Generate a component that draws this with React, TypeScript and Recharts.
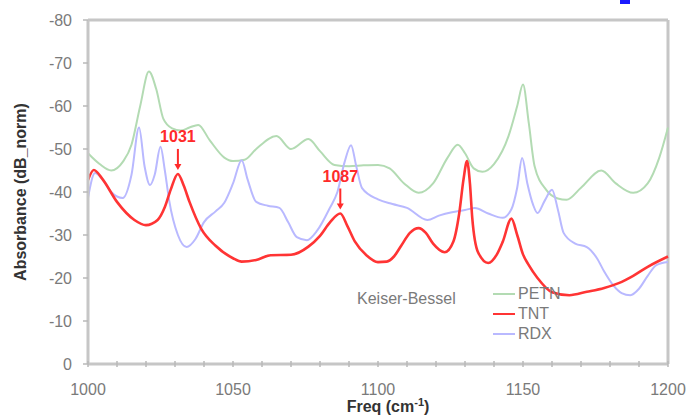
import {
  LineChart,
  Line,
  XAxis,
  YAxis,
  ReferenceLine,
  ReferenceDot,
  Label,
} from "recharts";

const FONT = '"Liberation Sans", Arial, Helvetica, sans-serif';

// Normalised absorbance spectra (Keiser-Bessel window), 1000-1200 cm^-1
const petnFreq = [
  1000, 1004, 1008, 1012, 1015, 1018, 1021, 1023.5, 1026, 1029, 1032, 1035, 1038,
  1042, 1047, 1050, 1054, 1058, 1065, 1070, 1076, 1080, 1085, 1090, 1095, 1100,
  1104, 1109, 1114, 1119, 1124, 1127.5, 1130, 1133, 1136, 1140, 1145, 1148, 1150,
  1152, 1154, 1158, 1162, 1165, 1170, 1177, 1182, 1188, 1193, 1197, 1200,
];
const petnAbs = [
  -49, -46.5, -45, -47, -51, -60, -68, -64, -57, -54.8, -54.3, -55, -55.6, -52,
  -48, -47.2, -47.5, -50, -53, -50, -52.3, -49.5, -46.3, -46, -46.2, -46.3, -45.5,
  -42, -39.8, -42, -48, -51, -49, -45.5, -44.7, -46.5, -53, -60, -65, -56, -46,
  -40.5, -38.5, -38.2, -41, -45, -42, -39.8, -42, -48, -55,
];

const tntFreq = [
  1000, 1002, 1005, 1010, 1016, 1020, 1024, 1026.5, 1028.5, 1031, 1033, 1035, 1039,
  1044, 1050, 1053, 1058, 1063, 1070, 1076, 1080, 1083.5, 1087, 1089.5, 1092, 1096,
  1100, 1103, 1105.5, 1108, 1111, 1114, 1116.5, 1119, 1123, 1126, 1128, 1129.5,
  1130.7, 1131.7, 1132.5, 1134.5, 1138, 1141, 1143, 1146, 1148, 1150, 1152, 1155,
  1160, 1166, 1172, 1178, 1183, 1188, 1193, 1200,
];
const tntAbs = [
  -42.8, -45.1, -43, -37.7, -33.5, -32.3, -33.5, -36.5, -40.5, -44.2, -41.5, -37.7,
  -31.5, -27.5, -24.6, -23.8, -24.2, -25.3, -25.4, -27.3, -29.8, -33, -35, -32,
  -28.5, -25.3, -23.7, -23.8, -25, -27.5, -30.5, -31.6, -30.5, -28, -26, -28.5, -35,
  -43, -47.2, -42, -34, -26, -23.5, -25.5, -28.4, -33.8, -30, -25.5, -23, -20, -16.7,
  -16, -16.8, -17.7, -18.8, -20.5, -22.6, -25,
];

const rdxFreq = [
  1000, 1002.4, 1005, 1008, 1012, 1015, 1017.6, 1019.5, 1021.4, 1023, 1025, 1026.5,
  1028, 1031, 1034, 1037, 1040, 1044, 1047, 1050, 1053, 1055, 1058, 1062, 1066,
  1069, 1072, 1075.5, 1079, 1083.4, 1086, 1088.5, 1090.7, 1092.5, 1094.5, 1100,
  1105, 1110, 1117, 1121, 1125.5, 1130, 1133.4, 1138, 1143, 1146, 1148, 1149.7,
  1151.5, 1153.5, 1155, 1157.5, 1160, 1162, 1164, 1168, 1172, 1175.5, 1178, 1181,
  1184, 1187, 1190, 1193, 1196, 1200,
];
const rdxAbs = [
  -38.6, -44.4, -43, -40, -38.6, -44, -55, -46, -41.6, -44, -50.5, -45, -38, -30,
  -27.2, -29, -33, -35.5, -37.5, -42, -47.4, -43, -37.7, -36.8, -36.3, -33, -29.5,
  -28.8, -31, -36.3, -40, -47, -50.9, -46, -40.9, -38.3, -37.2, -36.3, -33.5, -34.5,
  -35.3, -35.8, -36.3, -35, -34, -36, -41, -47.9, -42, -37, -35.1, -38, -40.5, -36,
  -30.5, -28, -27.2, -24.6, -21.5, -18.4, -16.5, -16, -17.5, -20.5, -23, -23.7,
];

const yTicks = [-80, -70, -60, -50, -40, -30, -20, -10, 0];
const xTicks = [
  1000, 1010, 1020, 1030, 1040, 1050, 1060, 1070, 1080, 1090, 1100, 1110, 1120,
  1130, 1140, 1150, 1160, 1170, 1180, 1190, 1200,
];
const xLabelTicks = [1000, 1050, 1100, 1150, 1200];

// TNT peaks called out with an arrow
const tntPeaks = [1031, 1087];

const series = [
  { key: "petn", name: "PETN", color: "#b3dbb3", width: 2 },
  { key: "tnt", name: "TNT", color: "#ff3434", width: 2.6 },
  { key: "rdx", name: "RDX", color: "#b9b9ff", width: 2 },
];

// merge the three spectra into one table keyed by frequency
const rows = new Map<number, any>();
const addSeries = (key: string, freq: number[], vals: number[]) => {
  freq.forEach((f, i) => {
    const row = rows.get(f) ?? { f };
    row[key] = vals[i];
    rows.set(f, row);
  });
};
addSeries("petn", petnFreq, petnAbs);
addSeries("tnt", tntFreq, tntAbs);
addSeries("rdx", rdxFreq, rdxAbs);
const chartData = [...rows.values()].sort((a, b) => a.f - b.f);

const AXIS_GRAY = "#c6c6c6";
const TEXT_GRAY = "#7a7a7a";
const PEAK_RED = "#ff2a2a";

const FreqTick = ({ x, y, payload }: any) => (
  <g>
    <line x1={x} x2={x} y1={y - 3} y2={y + 3} stroke="#b8b8b8" strokeWidth={1.5} />
    {xLabelTicks.includes(payload.value) && (
      <text
        x={x}
        y={y + 31}
        textAnchor="middle"
        fill={TEXT_GRAY}
        fontSize={16}
        fontFamily={FONT}
      >
        {payload.value}
      </text>
    )}
  </g>
);

const PeakMarker = ({ cx, cy, label }: any) => (
  <g>
    <text
      x={cx}
      y={cy - 32}
      textAnchor="middle"
      fill={PEAK_RED}
      fontSize={16}
      fontWeight="bold"
      fontFamily={FONT}
    >
      {label}
    </text>
    <line x1={cx} x2={cx} y1={cy - 25} y2={cy - 9} stroke={PEAK_RED} strokeWidth={2} />
    <path d={`M${cx - 3.5},${cy - 10} L${cx + 3.5},${cy - 10} L${cx},${cy - 4} Z`} fill={PEAK_RED} />
  </g>
);

const renderFreqTitle = ({ viewBox }: any) => (
  <text
    x={viewBox.x + viewBox.width / 2 + 10}
    y={412}
    textAnchor="middle"
    fill="#333"
    fontSize={16}
    fontWeight="bold"
    fontFamily={FONT}
  >
    Freq (cm
    <tspan fontSize={11} dy={-6}>-1</tspan>
    <tspan dy={6}>)</tspan>
  </text>
);

const renderAbsTitle = ({ viewBox }: any) => {
  const cx = 26;
  const cy = viewBox.y + viewBox.height / 2;
  return (
    <text
      x={cx}
      y={cy}
      transform={`rotate(-90, ${cx}, ${cy})`}
      textAnchor="middle"
      fill="#333"
      fontSize={16}
      fontWeight="bold"
      fontFamily={FONT}
    >
      Absorbance (dB_norm)
    </text>
  );
};

export default function App() {
  return (
    <div
      style={{
        position: "absolute",
        left: 0,
        top: 0,
        width: 687,
        height: 417,
        background: "#fff",
        fontFamily: FONT,
      }}
    >
      <LineChart
        width={687}
        height={417}
        data={chartData}
        margin={{ top: 20, right: 19, bottom: 23, left: 0 }}
      >
        <XAxis
          dataKey="f"
          type="number"
          domain={[1000, 1200]}
          ticks={xTicks}
          interval={0}
          height={30}
          tickSize={0}
          tickMargin={0}
          tickLine={false}
          tick={<FreqTick />}
          axisLine={{ stroke: AXIS_GRAY, strokeWidth: 3 }}
        >
          <Label content={renderFreqTitle} />
        </XAxis>
        <YAxis
          type="number"
          domain={[-80, 0]}
          reversed
          ticks={yTicks}
          interval={0}
          width={88}
          tickSize={5}
          tickMargin={11}
          tickLine={{ stroke: "#b8b8b8", strokeWidth: 1.5 }}
          axisLine={{ stroke: AXIS_GRAY, strokeWidth: 3 }}
          tick={{ fill: TEXT_GRAY, fontSize: 16, fontFamily: FONT }}
        >
          <Label content={renderAbsTitle} />
        </YAxis>
        <ReferenceLine y={-80} stroke={AXIS_GRAY} strokeWidth={3} />
        <ReferenceLine x={1200} stroke={AXIS_GRAY} strokeWidth={3} />
        {[series[0], series[2], series[1]].map((s) => (
          <Line
            key={s.key}
            dataKey={s.key}
            name={s.name}
            type="monotone"
            stroke={s.color}
            strokeWidth={s.width}
            dot={false}
            connectNulls
            isAnimationActive={false}
          />
        ))}
        {tntPeaks.map((f) => (
          <ReferenceDot
            key={f}
            x={f}
            y={tntAbs[tntFreq.indexOf(f)]}
            r={0}
            shape={(p: any) => <PeakMarker {...p} label={String(f)} />}
          />
        ))}
      </LineChart>

      <div
        style={{
          position: "absolute",
          left: 357,
          top: 290,
          fontSize: 16,
          lineHeight: "18px",
          color: TEXT_GRAY,
        }}
      >
        Keiser-Bessel
      </div>

      <div style={{ position: "absolute", left: 493, top: 284 }}>
        {series.map((s) => (
          <div
            key={s.key}
            style={{ display: "flex", alignItems: "center", height: 20 }}
          >
            <div style={{ width: 22, height: s.width, background: s.color }} />
            <span
              style={{
                marginLeft: 3,
                fontSize: 16,
                lineHeight: "18px",
                color: TEXT_GRAY,
              }}
            >
              {s.name}
            </span>
          </div>
        ))}
      </div>

      <div
        style={{
          position: "absolute",
          left: 620,
          top: 0,
          width: 10,
          height: 4,
          background: "#1a1aff",
        }}
      />
    </div>
  );
}
